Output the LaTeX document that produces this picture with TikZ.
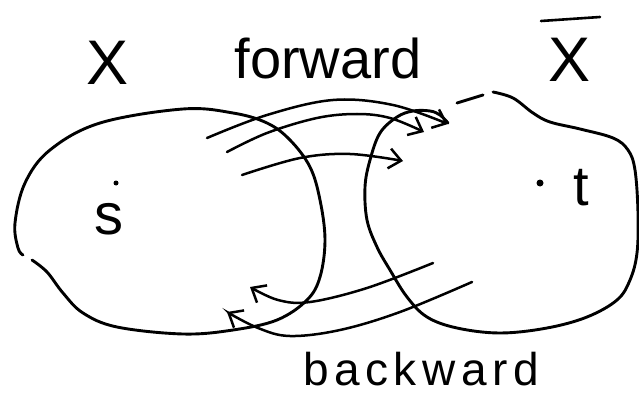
\documentclass[tikz,border=0pt]{standalone}
\usepackage{fontspec}
\setmainfont{Liberation Sans}
\usetikzlibrary{arrows.meta}
\tikzset{
  blob/.style={line width=2.9pt, line cap=round, line join=round},
  flow/.style={line width=2.5pt, line cap=round, -{Straight Barb[length=12pt,width=20pt,line width=2.5pt]}},
  lbl/.style={inner sep=0pt, anchor=base, text=black},
  pt/.style={fill=black, circle, inner sep=0pt, minimum size=5pt}
}
\begin{document}
\begin{tikzpicture}[x=1pt,y=-1pt]
\useasboundingbox (0,0) rectangle (639,398);

% labels
\node[lbl, font=\fontsize{63}{66}\selectfont] (xl) at (108,85) {X};
\node[lbl, font=\fontsize{56}{60}\selectfont] (fw) at (328,79) {forward};
\node[lbl, font=\fontsize{63}{66}\selectfont] (xr) at (570,82) {X};
\draw[line width=2.6pt, line cap=round] (541,21) coordinate (b1) -- (600,17) coordinate (b2);
\node[lbl, font=\fontsize{46}{50}\selectfont\addfontfeature{LetterSpace=12}] (bw) at (421,385) {backward};

% points
\node[pt, minimum size=5pt] (sd) at (116,183) {};
\node[lbl, font=\fontsize{58}{60}\selectfont] (s) at (109,234) {s};
\node[pt, minimum size=7pt] (td) at (540,183) {};
\node[lbl, font=\fontsize{56}{60}\selectfont] (t) at (581,205) {t};

% left blob X
\draw[blob] plot[smooth, tension=0.6] coordinates {(32,260) (47,272) (63,293) (83,313) (117,327) (183,334) (233,330) (277,320) (307,300) (320,277) (325,240) (320,200) (310,167) (290,140) (267,123) (233,113) (183,109) (100,123) (50,150) (25,183) (15,223) (18,248) (23,255)};

% right blob Xbar
\draw[blob] plot[smooth, tension=0.6] coordinates {(448,123) (440,115) (430,111) (413,111) (397,117) (380,133) (370,160) (365,187) (367,220) (377,247) (390,270) (407,297) (427,317) (457,328) (500,333) (547,328) (587,317) (617,300) (630,280) (637,253) (638,213) (635,170) (628,150) (613,138) (580,129) (550,122) (533,113) (513,98) (493,92)};
\draw[blob] (457,103) coordinate (d1) -- (483,95) coordinate (d2);

% forward arrows
\draw[flow] plot[smooth, tension=0.6] coordinates {(207,138) (267,115) (333,100) (393,105) (448,124)};
\draw[flow] plot[smooth, tension=0.6] coordinates {(227,152) (267,133) (317,118) (357,114) (390,118) (424,132)};
\draw[flow] plot[smooth, tension=0.6] coordinates {(242,175) (300,158) (350,154) (403,161)};

% backward arrows
\draw[flow] plot[smooth, tension=0.6] coordinates {(433,263) (367,288) (310,302) (278,300) (250,287)};
\draw[flow] plot[smooth, tension=0.6] coordinates {(472,282) (400,312) (340,330) (290,336) (258,328) (227,312)};
\end{tikzpicture}
\end{document}
